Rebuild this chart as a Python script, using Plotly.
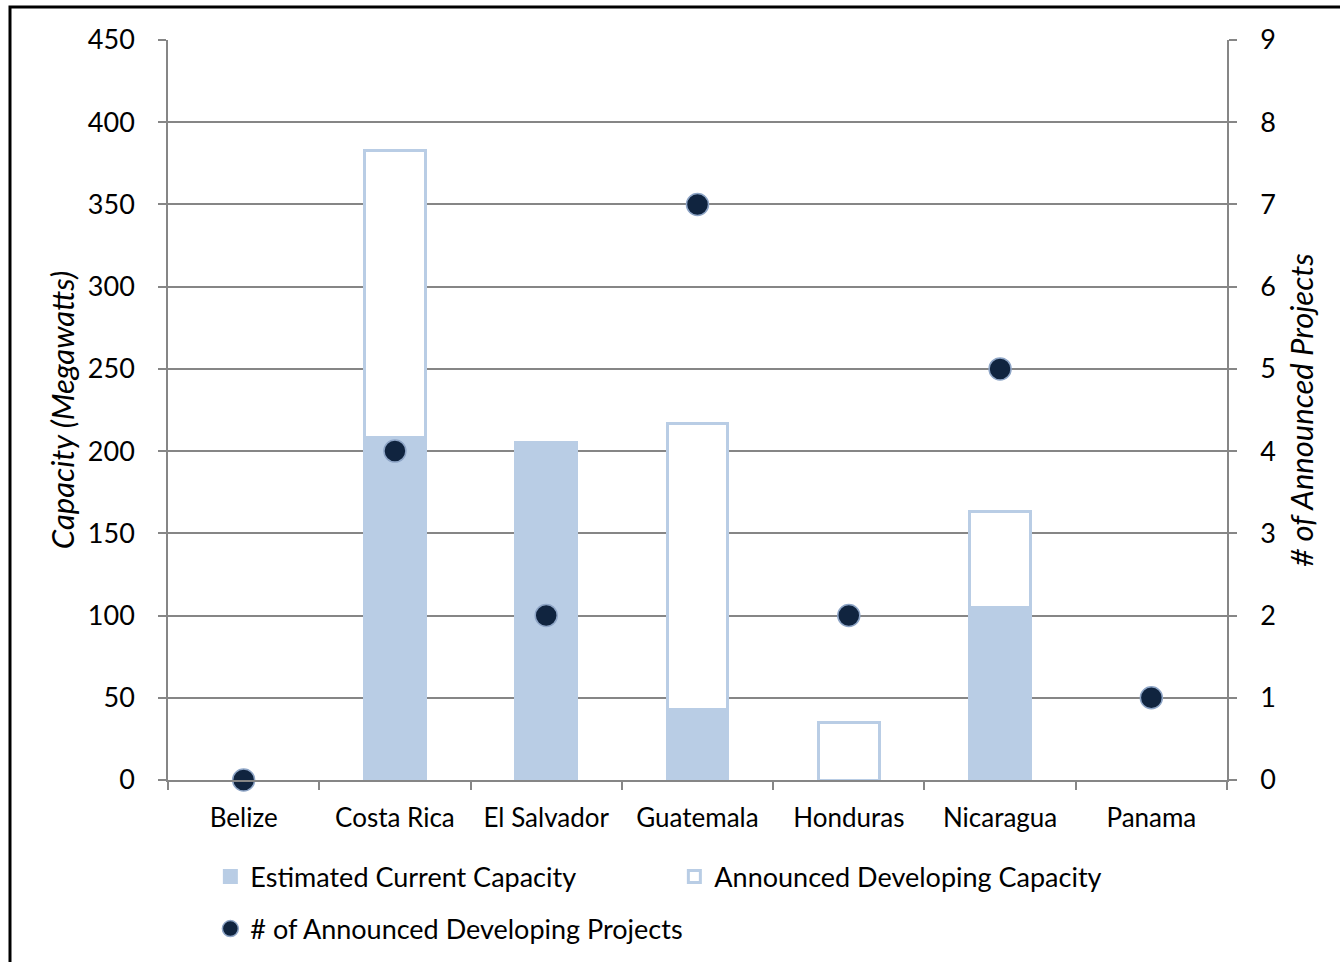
import plotly.graph_objects as go

# Geothermal capacity by Central American country
countries = ["Belize", "Costa Rica", "El Salvador", "Guatemala", "Honduras", "Nicaragua", "Panama"]
current_capacity = [0, 208, 205, 43, 0, 105, 0]          # MW, estimated current
developing_capacity = [0, 175, 0, 174, 35, 58, 0]         # MW, announced developing (stacked on current)
announced_projects = [0, 4, 2, 7, 2, 5, 1]                # number of announced developing projects

left_ticks = [0, 50, 100, 150, 200, 250, 300, 350, 400, 450]
right_ticks = [0, 1, 2, 3, 4, 5, 6, 7, 8, 9]

BAR_BLUE = "#B9CDE5"
NAVY = "#10243F"
GRID = "#868686"
FONT = "Lato"


def skip_zero(values):
    # zero-height bars would still draw their outline, so leave them empty
    return [v if v else None for v in values]


fig = go.Figure()

fig.add_trace(go.Bar(
    x=countries, y=skip_zero(current_capacity), name="Estimated Current Capacity",
    marker=dict(color=BAR_BLUE, line=dict(color=BAR_BLUE, width=3)),
    width=0.4, legend="legend",
))
fig.add_trace(go.Bar(
    x=countries, y=skip_zero(developing_capacity), name="Announced Developing Capacity",
    marker=dict(color="white", line=dict(color=BAR_BLUE, width=3)),
    width=0.4, legend="legend",
))
fig.add_trace(go.Scatter(
    x=countries, y=announced_projects, name="# of Announced Developing Projects",
    mode="markers", yaxis="y2", legend="legend2", cliponaxis=False,
    marker=dict(color=NAVY, size=22, line=dict(color="#8EA5C6", width=1.5)),
))

fig.update_layout(
    width=1340, height=962,
    margin=dict(l=168, r=113, t=40, b=182, autoexpand=False),
    paper_bgcolor="white", plot_bgcolor="white",
    barmode="stack",
    font=dict(family=FONT, size=24, color="#000000"),
    xaxis=dict(
        showgrid=False, showline=True, linecolor=GRID, linewidth=1.5,
        ticks="outside", tickson="boundaries", ticklen=8, tickcolor=GRID, tickwidth=1.5,
        ticklabelstandoff=14,
        tickfont=dict(size=26, family=FONT),
    ),
    yaxis=dict(
        range=[0, 450], tickvals=left_ticks, ticktext=[str(v) for v in left_ticks],
        showgrid=True, gridcolor=GRID, gridwidth=1.5,
        zeroline=False, showline=True, linecolor=GRID, linewidth=1.5,
        ticks="outside", ticklen=8, tickcolor=GRID, tickwidth=1.5,
        ticklabelstandoff=18,
        tickfont=dict(size=27, family=FONT),
        title=dict(text="<i>Capacity (Megawatts)</i>", font=dict(size=31, family=FONT), standoff=4),
    ),
    yaxis2=dict(
        range=[0, 9], tickvals=right_ticks, overlaying="y", side="right",
        showgrid=False, zeroline=False, showline=True, linecolor=GRID, linewidth=1.5,
        ticks="outside", ticklen=8, tickcolor=GRID, tickwidth=1.5,
        ticklabelstandoff=18,
        tickfont=dict(size=27, family=FONT),
        title=dict(text="<i># of Announced Projects</i>", font=dict(size=31, family=FONT), standoff=16),
    ),
    legend=dict(
        orientation="h", x=0.04, xanchor="left", y=-0.1311, yanchor="middle",
        entrywidth=419, entrywidthmode="pixels",
        font=dict(size=27, family=FONT), traceorder="normal",
    ),
    legend2=dict(
        orientation="h", x=0.04, xanchor="left", y=-0.2014, yanchor="middle",
        font=dict(size=27, family=FONT), itemsizing="trace",
    ),
    shapes=[dict(
        type="rect", xref="paper", yref="paper",
        x0=-0.1492, x1=1.2, y0=-0.4, y1=1.0446,
        line=dict(color="black", width=3), fillcolor="rgba(0,0,0,0)", layer="above",
    )],
)

fig.write_html("out.html")
